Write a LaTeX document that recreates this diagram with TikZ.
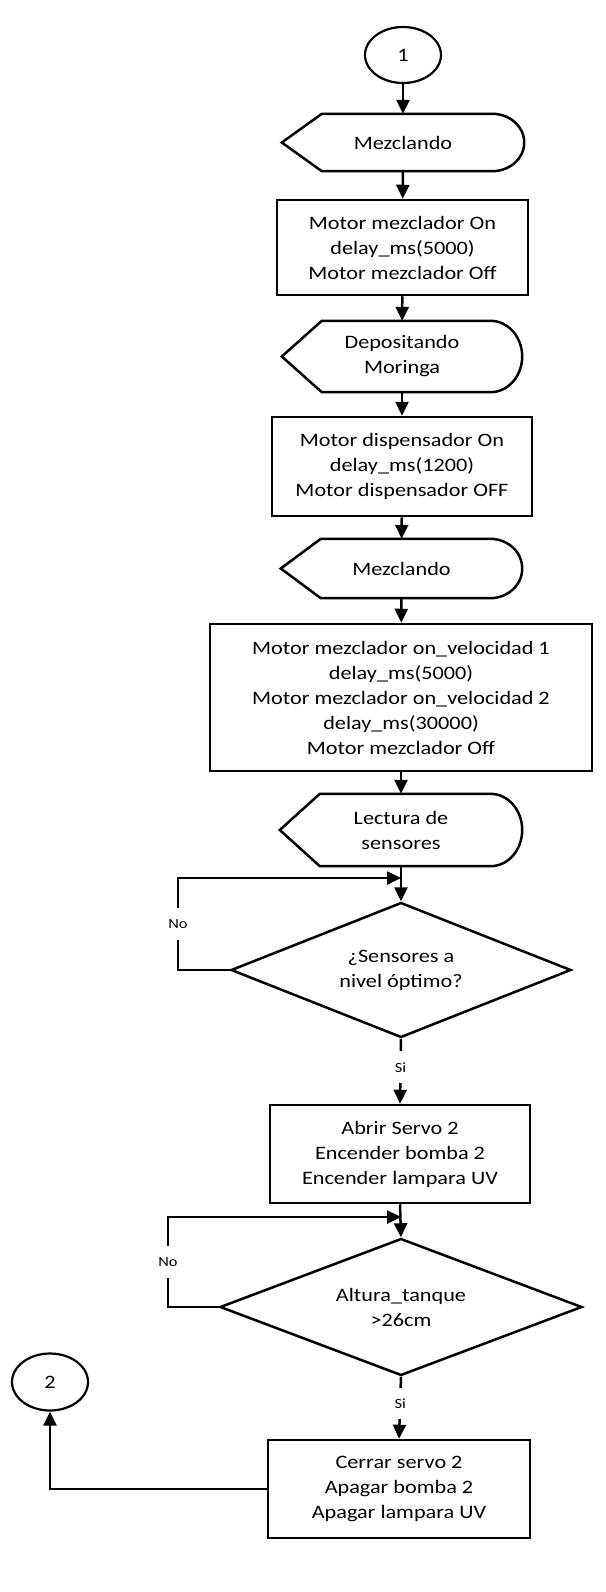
\documentclass[tikz,border=0pt]{standalone}
\usepackage{fontspec}
\setmainfont{Carlito}[FakeStretch=1.17]
\usetikzlibrary{arrows.meta,shapes.geometric}

\tikzset{
  proceso/.style={draw, rectangle, line width=2.5pt, align=center, inner sep=0pt},
  pantalla/.style={rectangle, align=center, inner sep=0pt},
  decision/.style={draw, diamond, line width=2.5pt, align=center, inner sep=0pt},
  conector/.style={draw, ellipse, line width=2.2pt, inner sep=0pt},
  flecha/.style={line width=2.5pt, -{Triangle[length=14pt,width=13pt]}},
  etiqueta/.style={fill=white, inner xsep=2pt, inner ysep=11pt, font=\fontsize{14}{16}\selectfont},
}

% contorno de los bloques de pantalla
\newcommand{\pantallaborde}[1]{%
  \draw[line width=2.5pt] (#1.west) -- ([xshift=40pt]#1.north west)
    -- ([xshift=-32pt]#1.north east) to[out=0,in=90] (#1.east)
    to[out=-90,in=0] ([xshift=-32pt]#1.south east)
    -- ([xshift=40pt]#1.south west) -- cycle;}

\begin{document}
\begin{tikzpicture}[x=1pt, y=1pt, font=\fontsize{19}{25}\selectfont]
  \useasboundingbox (0,0) rectangle (605,-1592);

  \node[conector, minimum width=76pt, minimum height=56pt] (c1) at (403,-55) {1};
  \node[pantalla, minimum width=242pt, minimum height=57pt] (mez1) at (403,-142.5) {Mezclando};
  \pantallaborde{mez1}
  \node[proceso, minimum width=251pt, minimum height=95pt] (mot1) at (402.5,-247.5)
    {Motor mezclador On\\delay\_ms(5000)\\Motor mezclador Off};
  \node[pantalla, minimum width=240pt, minimum height=71pt] (dep) at (402,-356.5) {Depositando\\Moringa};
  \pantallaborde{dep}
  \node[proceso, minimum width=260pt, minimum height=99pt] (disp) at (402,-466.5)
    {Motor dispensador On\\delay\_ms(1200)\\Motor dispensador OFF};
  \node[pantalla, minimum width=241pt, minimum height=59pt] (mez2) at (401.5,-568.5) {Mezclando};
  \pantallaborde{mez2}
  \node[proceso, minimum width=382pt, minimum height=147pt] (mot2) at (401,-697.5)
    {Motor mezclador on\_velocidad 1\\delay\_ms(5000)\\Motor mezclador on\_velocidad 2\\delay\_ms(30000)\\Motor mezclador Off};
  \node[pantalla, minimum width=242pt, minimum height=72pt] (lect) at (401,-830) {Lectura de\\sensores};
  \pantallaborde{lect}
  \node[decision, aspect=2.5, minimum width=340pt, minimum height=135pt] (d1) at (401,-970)
    {¿Sensores a\\nivel óptimo?};
  \node[proceso, minimum width=260pt, minimum height=98pt] (abrir) at (400,-1154)
    {Abrir Servo 2\\Encender bomba 2\\Encender lampara UV};
  \node[decision, aspect=2.6, minimum width=362pt, minimum height=137pt] (d2) at (401,-1307)
    {Altura\_tanque\\>26cm};
  \node[proceso, minimum width=262pt, minimum height=98pt] (cerrar) at (399,-1489)
    {Cerrar servo 2\\Apagar bomba 2\\Apagar lampara UV};
  \node[conector, minimum width=76pt, minimum height=57pt] (c2) at (50,-1382) {2};

  \coordinate (lazo1) at (178,-878);
  \coordinate (lazo2) at (168,-1217);

  \draw[flecha] (c1) -- (mez1);
  \draw[flecha] (mez1) -- (mot1);
  \draw[flecha] (mot1) -- (dep);
  \draw[flecha] (dep) -- (disp);
  \draw[flecha] (disp) -- (mez2);
  \draw[flecha] (mez2) -- (mot2);
  \draw[flecha] (mot2) -- (lect);
  \draw[flecha] (lect.south) -- (d1.north);
  \draw[flecha] (d1.west) -| node[etiqueta, pos=0.75] {No} (lazo1) -- (lazo1 -| d1.north);
  \draw[flecha] (d1.south) -- node[etiqueta, pos=0.44] {Si} (abrir.north);
  \draw[flecha] (abrir.south) -- (d2.north);
  \draw[flecha] (d2.west) -| node[etiqueta, pos=0.75] {No} (lazo2) -- (lazo2 -| d2.north);
  \draw[flecha] (d2.south) -- node[etiqueta, pos=0.43] {Si} (cerrar.north);
  \draw[flecha] (cerrar.west) -| (c2.south);
\end{tikzpicture}
\end{document}
